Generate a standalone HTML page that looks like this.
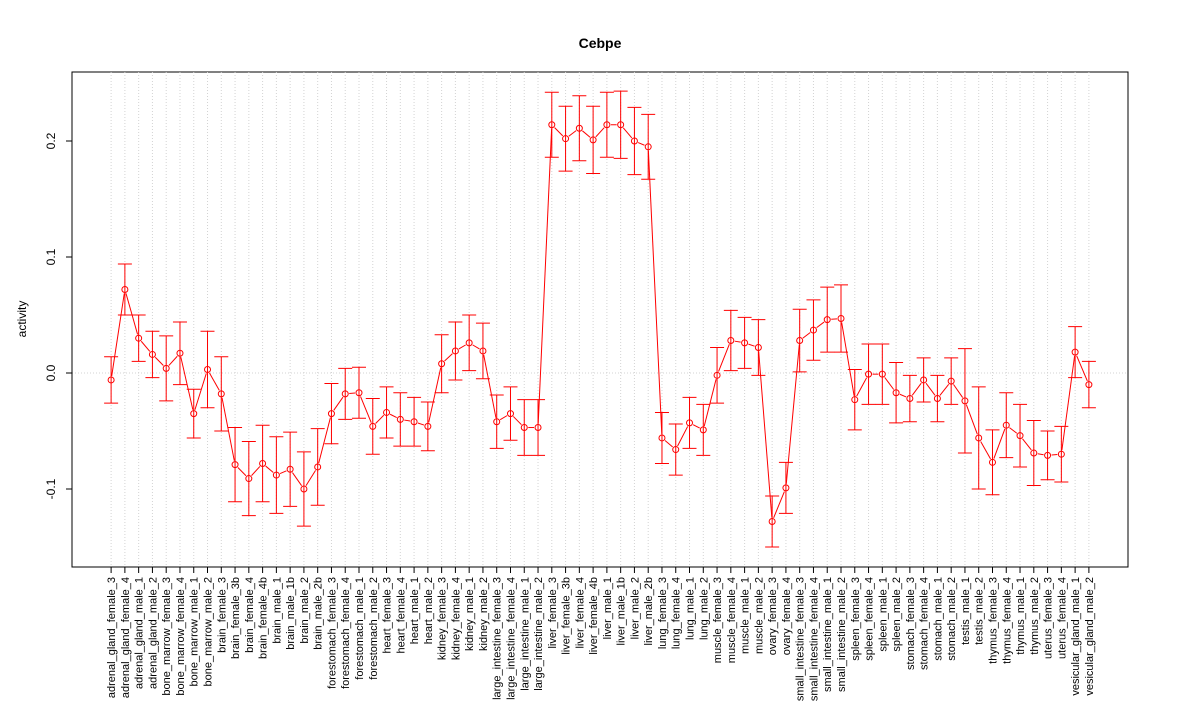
<!DOCTYPE html>
<html><head><meta charset="utf-8"><style>
body{margin:0;background:#fff;}
svg{display:block;font-family:"Liberation Sans",Arial,sans-serif;}
</style></head><body>
<svg id="chart" width="1200" height="720" xmlns="http://www.w3.org/2000/svg">
<text x="600" y="48" text-anchor="middle" font-weight="bold" font-size="14">Cebpe</text>
<rect x="72" y="72" width="1056" height="495" fill="none" stroke="#000" stroke-width="1"/>
<text transform="translate(26,319) rotate(-90)" text-anchor="middle" font-size="12">activity</text>
<g id="grid"></g><g id="yaxis"></g><g id="series"></g><g id="xlabels"></g>
</svg>
<script>
const categories=["adrenal_gland_female_3","adrenal_gland_female_4","adrenal_gland_male_1","adrenal_gland_male_2","bone_marrow_female_3","bone_marrow_female_4","bone_marrow_male_1","bone_marrow_male_2","brain_female_3","brain_female_3b","brain_female_4","brain_female_4b","brain_male_1","brain_male_1b","brain_male_2","brain_male_2b","forestomach_female_3","forestomach_female_4","forestomach_male_1","forestomach_male_2","heart_female_3","heart_female_4","heart_male_1","heart_male_2","kidney_female_3","kidney_female_4","kidney_male_1","kidney_male_2","large_intestine_female_3","large_intestine_female_4","large_intestine_male_1","large_intestine_male_2","liver_female_3","liver_female_3b","liver_female_4","liver_female_4b","liver_male_1","liver_male_1b","liver_male_2","liver_male_2b","lung_female_3","lung_female_4","lung_male_1","lung_male_2","muscle_female_3","muscle_female_4","muscle_male_1","muscle_male_2","ovary_female_3","ovary_female_4","small_intestine_female_3","small_intestine_female_4","small_intestine_male_1","small_intestine_male_2","spleen_female_3","spleen_female_4","spleen_male_1","spleen_male_2","stomach_female_3","stomach_female_4","stomach_male_1","stomach_male_2","testis_male_1","testis_male_2","thymus_female_3","thymus_female_4","thymus_male_1","thymus_male_2","uterus_female_3","uterus_female_4","vesicular_gland_male_1","vesicular_gland_male_2"];
const values=[-0.006,0.072,0.030,0.016,0.004,0.017,-0.035,0.003,-0.018,-0.079,-0.091,-0.078,-0.088,-0.083,-0.100,-0.081,-0.035,-0.018,-0.017,-0.046,-0.034,-0.040,-0.042,-0.046,0.008,0.019,0.026,0.019,-0.042,-0.035,-0.047,-0.047,0.214,0.202,0.211,0.201,0.214,0.214,0.200,0.195,-0.056,-0.066,-0.043,-0.049,-0.002,0.028,0.026,0.022,-0.128,-0.099,0.028,0.037,0.046,0.047,-0.023,-0.001,-0.001,-0.017,-0.022,-0.006,-0.022,-0.007,-0.024,-0.056,-0.077,-0.045,-0.054,-0.069,-0.071,-0.070,0.018,-0.010];
const errors=[0.020,0.022,0.020,0.020,0.028,0.027,0.021,0.033,0.032,0.032,0.032,0.033,0.033,0.032,0.032,0.033,0.026,0.022,0.022,0.024,0.022,0.023,0.021,0.021,0.025,0.025,0.024,0.024,0.023,0.023,0.024,0.024,0.028,0.028,0.028,0.029,0.028,0.029,0.029,0.028,0.022,0.022,0.022,0.022,0.024,0.026,0.022,0.024,0.022,0.022,0.027,0.026,0.028,0.029,0.026,0.026,0.026,0.026,0.020,0.019,0.020,0.020,0.045,0.044,0.028,0.028,0.027,0.028,0.021,0.024,0.022,0.020];
const yTicks=[-0.1,0.0,0.1,0.2];
const yTickLabels=["-0.1","0.0","0.1","0.2"];
const NS="http://www.w3.org/2000/svg";
const n=categories.length;
const L=72,R=1128,T=72,B=567;
const xs=i=>{const lo=1-0.04*(n-1),hi=n+0.04*(n-1);return L+(i+1-lo)/(hi-lo)*(R-L);};
const ys=v=>373-v*1160;
function mk(tag,attrs,parent){const e=document.createElementNS(NS,tag);for(const k in attrs)e.setAttribute(k,attrs[k]);parent.appendChild(e);return e;}
const grid=document.getElementById('grid'),yax=document.getElementById('yaxis'),ser=document.getElementById('series'),xl=document.getElementById('xlabels');
for(let i=0;i<n;i++){
  const g=mk('line',{x1:xs(i),x2:xs(i),y1:T,y2:B,stroke:'#d3d3d3','stroke-dasharray':'1,2'},grid);
  
  
  const tk=mk('line',{x1:xs(i),x2:xs(i),y1:B,y2:B+6,stroke:'#000'},xl);
  
  
  const t=mk('text',{transform:`translate(${xs(i)+4},${B+10}) rotate(-90)`,'text-anchor':'end','font-size':'11'},xl);
  t.textContent=categories[i];
  
  
}
const h0=mk('line',{x1:L,x2:R,y1:ys(0),y2:ys(0),stroke:'#d3d3d3','stroke-dasharray':'1,2'},grid);


const al=mk('line',{x1:L,x2:L,y1:ys(yTicks[0]),y2:ys(yTicks[yTicks.length-1]),stroke:'#000'},yax);


yTicks.forEach((v,k)=>{
  const tk=mk('line',{x1:L-6,x2:L,y1:ys(v),y2:ys(v),stroke:'#000'},yax);
  
  
  const t=mk('text',{transform:`translate(55,${ys(v)}) rotate(-90)`,'text-anchor':'middle','font-size':'12'},yax);
  t.textContent=yTickLabels[k];
  
  
});
const red='#ff0000';
for(let i=0;i<n-1;i++){
  const x1=xs(i),y1=ys(values[i]),x2=xs(i+1),y2=ys(values[i+1]);
  const d=Math.hypot(x2-x1,y2-y1),g=4;
  if(d>2*g){const ux=(x2-x1)/d,uy=(y2-y1)/d;
    const s=mk('line',{x1:x1+ux*g,y1:y1+uy*g,x2:x2-ux*g,y2:y2-uy*g,stroke:red,'stroke-width':1},ser);
    
    }
}
for(let i=0;i<n;i++){
  const x=xs(i),yt=ys(values[i]+errors[i]),yb=ys(values[i]-errors[i]);
  const e=mk('path',{d:`M${x},${yt}V${yb}M${x-7},${yt}H${x+7}M${x-7},${yb}H${x+7}`,stroke:red,fill:'none','stroke-width':1},ser);
  
  
  const c=mk('circle',{cx:x,cy:ys(values[i]),r:3,fill:'none',stroke:red,'stroke-width':1},ser);
  
  
}
</script>
</body></html>
